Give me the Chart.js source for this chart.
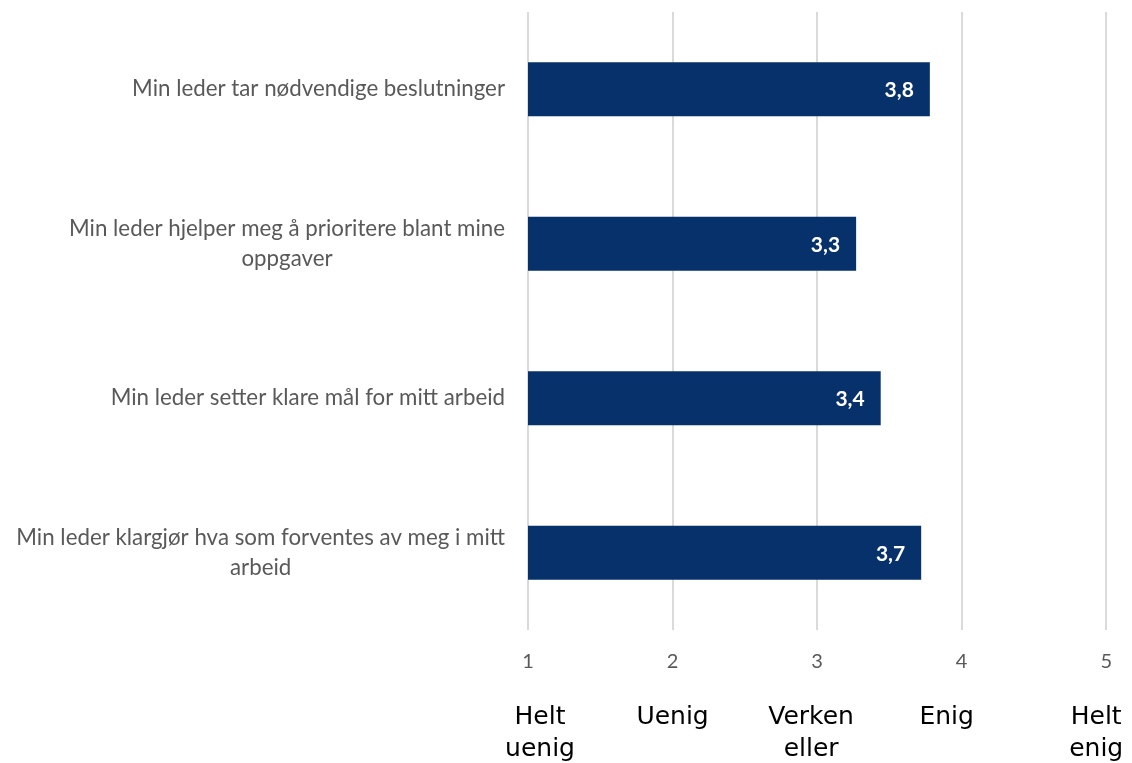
<!DOCTYPE html>
<html>
<head>
<meta charset="utf-8">
<script src="https://cdn.jsdelivr.net/npm/chart.js@4.4.1/dist/chart.umd.min.js"></script>
<style>
  html, body { margin: 0; padding: 0; background: #ffffff; }
  #wrap { width: 1132px; height: 763px; position: relative; }
</style>
</head>
<body>
<div id="wrap"><canvas id="chart" width="1132" height="763"></canvas></div>
<script>
// Statements (one line per array entry, wrapped as shown)
const categories = [
  ["Min leder tar nødvendige beslutninger"],
  ["Min leder hjelper meg å prioritere blant mine", "oppgaver"],
  ["Min leder setter klare mål for mitt arbeid"],
  ["Min leder klargjør hva som forventes av meg i mitt", "arbeid"]
];
// Mean score on the 1–5 scale
const meanScores = [3.78, 3.27, 3.44, 3.72];
// Scale ticks and their verbal anchors
const scaleTicks = [1, 2, 3, 4, 5];
const scaleAnchors = [
  ["Helt", "uenig"],
  ["Uenig"],
  ["Verken", "eller"],
  ["Enig"],
  ["Helt", "enig"]
];

const BAR_COLOR = "#07316b";
const LABEL_GREY = "#595959";
const BASE_FONT = "Lato, 'Open Sans', sans-serif";

// Category labels: first line right-aligned, following lines centred under it
const categoryLabelPlugin = {
  id: "categoryLabels",
  afterDraw(chart) {
    const { ctx } = chart;
    const yScale = chart.scales.y;
    const rightEdge = yScale.right - 23;
    const lineH = 30;
    ctx.save();
    ctx.font = "22.3px " + BASE_FONT;
    ctx.fillStyle = LABEL_GREY;
    ctx.textAlign = "center";
    ctx.textBaseline = "middle";
    categories.forEach((lines, i) => {
      const yc = yScale.getPixelForValue(i);
      const w1 = ctx.measureText(lines[0]).width;
      const xc = rightEdge - w1 / 2;
      const y0 = yc - (lines.length - 1) * lineH / 2;
      lines.forEach((ln, k) => ctx.fillText(ln, xc, y0 + k * lineH));
    });
    ctx.restore();
  }
};

// Value labels inside the bar ends, Norwegian decimal comma
const valueLabelPlugin = {
  id: "valueLabels",
  afterDatasetsDraw(chart) {
    const { ctx } = chart;
    const meta = chart.getDatasetMeta(0);
    ctx.save();
    ctx.font = "bold 21px " + BASE_FONT;
    ctx.fillStyle = "#ffffff";
    ctx.textAlign = "right";
    ctx.textBaseline = "middle";
    meta.data.forEach((bar, i) => {
      const txt = meanScores[i].toFixed(1).replace(".", ",");
      ctx.fillText(txt, bar.x - 16, bar.y + 1);
    });
    ctx.restore();
  }
};

// Verbal anchors printed under the numeric scale
const anchorPlugin = {
  id: "scaleAnchors",
  afterDraw(chart) {
    const { ctx } = chart;
    const xScale = chart.scales.x;
    const nudge = [12, 0, -6, -15, -10];
    ctx.save();
    ctx.font = "25px 'DejaVu Sans', sans-serif";
    ctx.fillStyle = "#000000";
    ctx.textAlign = "center";
    ctx.textBaseline = "middle";
    scaleAnchors.forEach((lines, i) => {
      const xc = xScale.getPixelForValue(scaleTicks[i]) + nudge[i];
      lines.forEach((ln, k) => ctx.fillText(ln, xc, 717 + k * 32));
    });
    ctx.restore();
  }
};

new Chart(document.getElementById("chart"), {
  type: "bar",
  data: {
    labels: categories.map(l => l.join(" ")),
    datasets: [{
      data: meanScores,
      backgroundColor: BAR_COLOR,
      borderWidth: 0,
      barPercentage: 0.35,
      categoryPercentage: 1.0
    }]
  },
  options: {
    indexAxis: "y",
    responsive: false,
    animation: false,
    layout: { padding: { top: 12, right: 22, bottom: 0, left: 0 } },
    plugins: {
      legend: { display: false },
      tooltip: { enabled: false },
      title: { display: false }
    },
    scales: {
      x: {
        type: "linear",
        min: scaleTicks[0],
        max: scaleTicks[scaleTicks.length - 1],
        afterBuildTicks(scale) {
          scale.ticks = scaleTicks.map(v => ({ value: v }));
        },
        afterFit(scale) { scale.height = 763 - 630; },
        border: { display: false },
        grid: { color: "#dadada", lineWidth: 2, drawTicks: false },
        ticks: {
          color: LABEL_GREY,
          font: { family: BASE_FONT, size: 20 },
          padding: 20,
          callback: v => String(v)
        }
      },
      y: {
        type: "category",
        offset: true,
        afterFit(scale) { scale.width = 528; },
        border: { display: false },
        grid: { display: false },
        ticks: { display: false }
      }
    }
  },
  plugins: [categoryLabelPlugin, valueLabelPlugin, anchorPlugin]
});
</script>
</body>
</html>
